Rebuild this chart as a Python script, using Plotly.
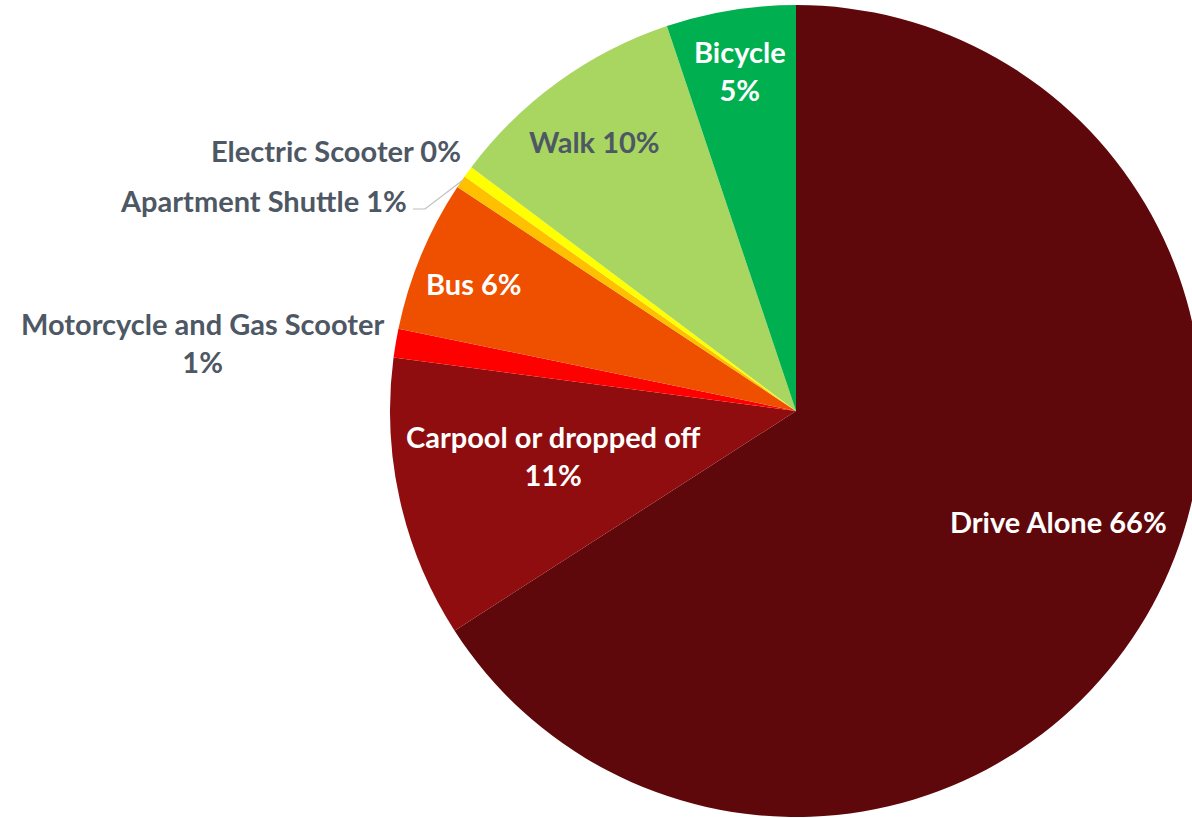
import plotly.graph_objects as go

modes = ["Drive Alone", "Carpool or dropped off", "Motorcycle and Gas Scooter", "Bus",
         "Apartment Shuttle", "Electric Scooter", "Walk", "Bicycle"]
shares = [65.9, 11.2, 1.15, 6.05, 0.5, 0.45, 9.6, 5.15]
pct_labels = ["66%", "11%", "1%", "6%", "1%", "0%", "10%", "5%"]
colors = ["#5E080B", "#8F0D0F", "#FF0000", "#EE5000", "#FFC000", "#FFFF00", "#A8D660", "#00B050"]

W, H = 1210, 818
cx, cy, R = 796, 411, 406

fig = go.Figure(go.Pie(
    labels=modes, values=shares, sort=False, direction="clockwise", rotation=0,
    marker=dict(colors=colors, line=dict(width=0)),
    textinfo="none", hoverinfo="label+percent", showlegend=False,
    domain=dict(x=[(cx - R) / W, (cx + R) / W], y=[1 - (cy + R) / H, 1 - (cy - R) / H]),
))

GRAY = "#4E5864"
FONT = "Lato"
label_specs = [
    # (index, x_px, y_px, xanchor, color, two_line)
    (0, 1058, 521, "center", "white", False),
    (1, 553, 455, "center", "white", True),
    (2, 202, 342, "center", GRAY, True),
    (3, 474, 284, "center", "white", False),
    (4, 409, 200, "right", GRAY, False),
    (5, 463, 150, "right", GRAY, False),
    (6, 594, 142, "center", GRAY, False),
    (7, 740, 70, "center", "white", True),
]
for i, xp, yp, xa, col, two in label_specs:
    sep = "<br>" if two else " "
    fig.add_annotation(
        x=xp / W, y=1 - yp / H, xref="paper", yref="paper",
        text=f"<b>{modes[i]}{sep}{pct_labels[i]}</b>", showarrow=False,
        xanchor=xa, yanchor="middle", align="center",
        font=dict(family=FONT, size=29, color=col),
    )

# leader line for Apartment Shuttle
fig.add_shape(type="path", xref="paper", yref="paper",
              path=f"M {413/W},{1-209/H} L {425/W},{1-209/H} L {463/W},{1-180/H}",
              line=dict(color="#BFBFBF", width=1.2))

fig.update_layout(width=W, height=H, margin=dict(l=0, r=0, t=0, b=0),
                  paper_bgcolor="white", plot_bgcolor="white")

fig.write_html("out.html", config={"displayModeBar": False},
               post_script="document.body.style.margin='0';document.body.style.overflow='hidden';document.documentElement.style.overflow='hidden';")
